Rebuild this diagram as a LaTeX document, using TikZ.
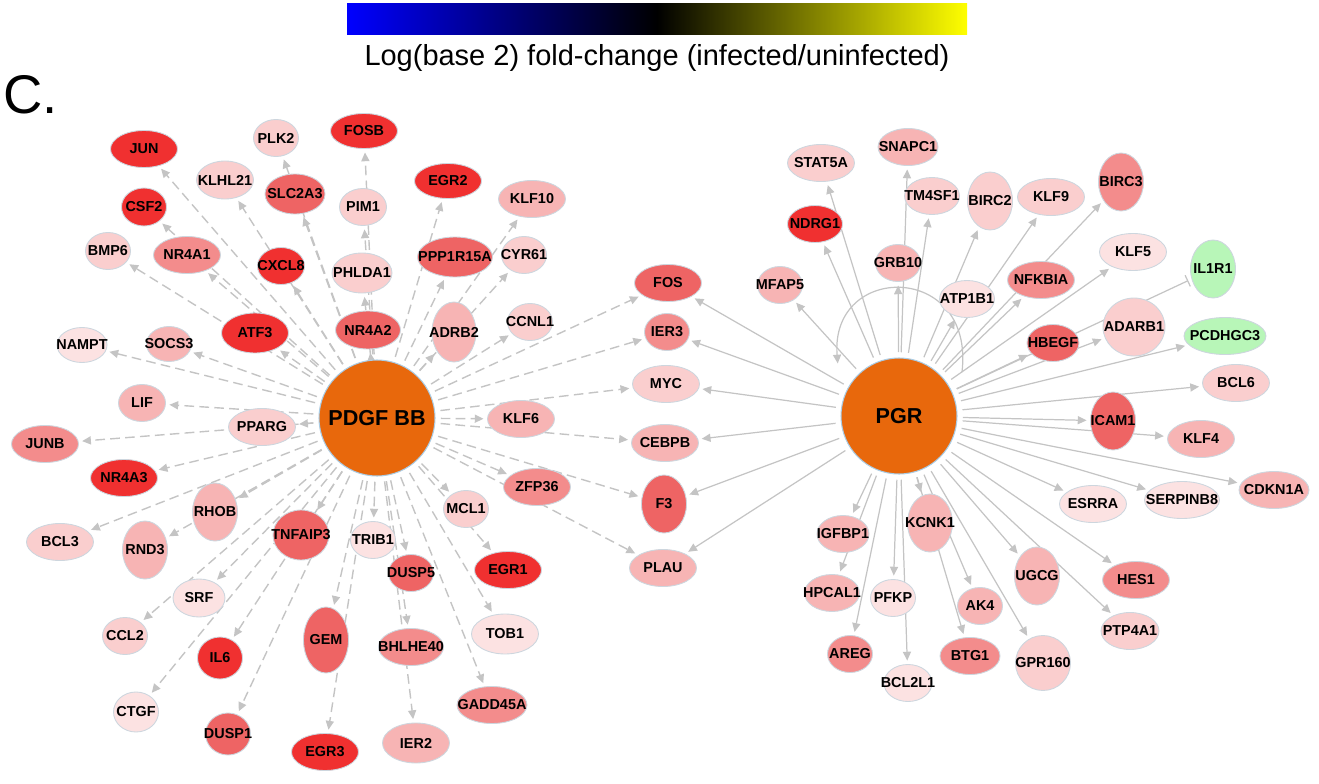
\documentclass[tikz,border=0pt]{standalone}
\usepackage{fontspec}
\setmainfont{Liberation Sans}
\usetikzlibrary{arrows.meta, shapes.geometric, backgrounds}

\definecolor{hubor}{RGB}{232,104,12}
\definecolor{hubrim}{RGB}{170,205,230}
\definecolor{rim}{RGB}{205,214,222}
\definecolor{edgegrey}{RGB}{196,196,196}
\definecolor{upfive}{RGB}{240,48,48}
\definecolor{upfour}{RGB}{238,100,100}
\definecolor{upthree}{RGB}{243,140,140}
\definecolor{uptwo}{RGB}{247,180,180}
\definecolor{upone}{RGB}{250,206,206}
\definecolor{upzero}{RGB}{252,226,226}
\definecolor{dngreen}{RGB}{184,246,184}

\tikzset{
  gene/.style={ellipse, draw=rim, line width=0.5pt, inner sep=0pt,
    font=\fontsize{8.2}{9}\selectfont\bfseries,
    execute at begin node={\hbox to 0pt\bgroup\hss},
    execute at end node={\hss\egroup}},
  wh/.style 2 args={minimum width=#1*0.02cm, minimum height=#2*0.02cm},
  hub/.style={circle, fill=hubor, draw=hubrim, line width=0.6pt, inner sep=0pt,
    minimum size=2.32cm, font=\fontsize{12.3}{14}\selectfont\bfseries},
  dashedge/.style={->, draw=edgegrey, line width=0.8pt, dash pattern=on 5.5pt off 3pt,
    shorten <=3pt, shorten >=2pt},
  solidedge/.style={->, draw=edgegrey, line width=0.7pt, shorten <=3pt, shorten >=2pt},
}

\begin{document}
\begin{tikzpicture}[x=0.02cm, y=-0.02cm, >={Triangle[length=5pt, width=4.6pt]}]
  \useasboundingbox (0,0) rectangle (1319,784);

  % colour scale
  \shade[left color=blue, right color=yellow, middle color=black] (347,4) rectangle (967,35);
  \node[font=\fontsize{16.5}{18}\selectfont] (scale) at (657,58) {Log(base 2) fold-change (infected/uninfected)};
  \node[font=\fontsize{31}{34}\selectfont, anchor=west, inner sep=0pt] (panel) at (3,95) {C.};

  % hubs
  \node[hub] (pdgf) at (377,418) {PDGF BB};
  \node[hub] (pgr) at (899,416) {PGR};

  % PDGF BB targets, upper half
  \node[gene, wh={67}{37}, fill=upfive] (jun) at (144,149) {JUN};
  \node[gene, wh={45}{37}, fill=upone] (plk2) at (276,138) {PLK2};
  \node[gene, wh={67}{35}, fill=upfive] (fosb) at (364,131) {FOSB};
  \node[gene, wh={57}{38}, fill=upone] (klhl21) at (225,180) {KLHL21};
  \node[gene, wh={60}{40}, fill=upfour] (slc2a3) at (295,194) {SLC2A3};
  \node[gene, wh={67}{35}, fill=upfive] (egr2) at (448,181) {EGR2};
  \node[gene, wh={47}{37}, fill=upone] (pim1) at (363,207) {PIM1};
  \node[gene, wh={67}{37}, fill=uptwo] (klf10) at (532,199) {KLF10};
  \node[gene, wh={45}{38}, fill=upfive] (csf2) at (144,207) {CSF2};
  \node[gene, wh={45}{37}, fill=upone] (bmp6) at (108,251) {BMP6};
  \node[gene, wh={67}{37}, fill=upthree] (nr4a1) at (187,255) {NR4A1};
  \node[gene, wh={47}{37}, fill=upfive] (cxcl8) at (281,266) {CXCL8};
  \node[gene, wh={60}{40}, fill=upone] (phlda1) at (362,273) {PHLDA1};
  \node[gene, wh={75}{40}, fill=upfour] (ppp1r15a) at (455,257) {PPP1R15A};
  \node[gene, wh={45}{37}, fill=upone] (cyr61) at (524,255) {CYR61};
  \node[gene, wh={65}{38}, fill=upfour] (nr4a2) at (368,330) {NR4A2};
  \node[gene, wh={44}{60}, fill=uptwo] (adrb2) at (454,332) {ADRB2};
  \node[gene, wh={45}{37}, fill=upone] (ccnl1) at (530,322) {CCNL1};
  \node[gene, wh={67}{40}, fill=upfive] (atf3) at (255,333) {ATF3};
  \node[gene, wh={50}{35}, fill=upzero] (nampt) at (82,345) {NAMPT};
  \node[gene, wh={45}{35}, fill=uptwo] (socs3) at (169,344) {SOCS3};

  % PDGF BB targets, lower half
  \node[gene, wh={47}{37}, fill=uptwo] (lif) at (142,403) {LIF};
  \node[gene, wh={67}{37}, fill=upone] (pparg) at (262,427) {PPARG};
  \node[gene, wh={67}{37}, fill=upthree] (junb) at (45,444) {JUNB};
  \node[gene, wh={67}{37}, fill=upfive] (nr4a3) at (124,478) {NR4A3};
  \node[gene, wh={45}{58}, fill=uptwo] (rhob) at (215,512) {RHOB};
  \node[gene, wh={67}{37}, fill=upone] (bcl3) at (60,542) {BCL3};
  \node[gene, wh={45}{58}, fill=uptwo] (rnd3) at (145,550) {RND3};
  \node[gene, wh={56}{50}, fill=upfour] (tnfaip3) at (301,535) {TNFAIP3};
  \node[gene, wh={45}{37}, fill=upzero] (trib1) at (373,540) {TRIB1};
  \node[gene, wh={45}{37}, fill=upone] (mcl1) at (466,509) {MCL1};
  \node[gene, wh={67}{37}, fill=uptwo] (klf6) at (521,419) {KLF6};
  \node[gene, wh={67}{37}, fill=upthree] (zfp36) at (537,487) {ZFP36};
  \node[gene, wh={45}{37}, fill=upfour] (dusp5) at (411,573) {DUSP5};
  \node[gene, wh={67}{37}, fill=upfive] (egr1) at (508,570) {EGR1};
  \node[gene, wh={52}{38}, fill=upzero] (srf) at (199,598) {SRF};
  \node[gene, wh={45}{37}, fill=upone] (ccl2) at (125,636) {CCL2};
  \node[gene, wh={45}{42}, fill=upfive] (il6) at (220,658) {IL6};
  \node[gene, wh={45}{66}, fill=upfour] (gem) at (326,640) {GEM};
  \node[gene, wh={65}{37}, fill=upthree] (bhlhe40) at (411,647) {BHLHE40};
  \node[gene, wh={67}{40}, fill=upzero] (tob1) at (505,634) {TOB1};
  \node[gene, wh={45}{40}, fill=upzero] (ctgf) at (136,712) {CTGF};
  \node[gene, wh={45}{42}, fill=upfour] (dusp1) at (228,734) {DUSP1};
  \node[gene, wh={67}{37}, fill=upfive] (egr3) at (325,752) {EGR3};
  \node[gene, wh={67}{40}, fill=uptwo] (ier2) at (416,743) {IER2};
  \node[gene, wh={70}{37}, fill=upthree] (gadd45a) at (492,705) {GADD45A};

  % shared targets
  \node[gene, wh={67}{37}, fill=upfour] (fos) at (668,283) {FOS};
  \node[gene, wh={45}{37}, fill=upthree] (ier3) at (667,332) {IER3};
  \node[gene, wh={67}{37}, fill=upone] (myc) at (666,384) {MYC};
  \node[gene, wh={67}{37}, fill=uptwo] (cebpb) at (665,443) {CEBPB};
  \node[gene, wh={45}{58}, fill=upfour] (f3) at (664,504) {F3};
  \node[gene, wh={67}{37}, fill=uptwo] (plau) at (663,568) {PLAU};

  % PGR targets, upper half
  \node[gene, wh={67}{37}, fill=upone] (stat5a) at (821,163) {STAT5A};
  \node[gene, wh={60}{37}, fill=uptwo] (snapc1) at (908,147) {SNAPC1};
  \node[gene, wh={55}{37}, fill=upone] (tm4sf1) at (932,196) {TM4SF1};
  \node[gene, wh={55}{37}, fill=upfive] (ndrg1) at (815,224) {NDRG1};
  \node[gene, wh={45}{37}, fill=uptwo] (grb10) at (898,263) {GRB10};
  \node[gene, wh={45}{37}, fill=uptwo] (mfap5) at (780,285) {MFAP5};
  \node[gene, wh={45}{58}, fill=upone] (birc2) at (990,201) {BIRC2};
  \node[gene, wh={67}{37}, fill=upone] (klf9) at (1051,197) {KLF9};
  \node[gene, wh={45}{58}, fill=upthree] (birc3) at (1121,182) {BIRC3};
  \node[gene, wh={67}{37}, fill=upzero] (klf5) at (1133,252) {KLF5};
  \node[gene, wh={45}{58}, fill=dngreen] (il1r1) at (1213,269) {IL1R1};
  \node[gene, wh={55}{37}, fill=upzero] (atp1b1) at (967,299) {ATP1B1};
  \node[gene, wh={67}{37}, fill=upthree] (nfkbia) at (1041,280) {NFKBIA};
  \node[gene, wh={62}{58}, fill=upone] (adarb1) at (1134,327) {ADARB1};
  \node[gene, wh={52}{37}, fill=upfour] (hbegf) at (1053,343) {HBEGF};
  \node[gene, wh={82}{37}, fill=dngreen] (pcdhgc3) at (1225,336) {PCDHGC3};
  \node[gene, wh={67}{37}, fill=upone] (bcl6) at (1236,383) {BCL6};

  % PGR targets, lower half
  \node[gene, wh={45}{58}, fill=upfour] (icam1) at (1113,421) {ICAM1};
  \node[gene, wh={67}{37}, fill=uptwo] (klf4) at (1201,439) {KLF4};
  \node[gene, wh={67}{37}, fill=upzero] (esrra) at (1093,504) {ESRRA};
  \node[gene, wh={75}{37}, fill=upzero] (serpinb8) at (1182,500) {SERPINB8};
  \node[gene, wh={70}{37}, fill=uptwo] (cdkn1a) at (1274,490) {CDKN1A};
  \node[gene, wh={45}{58}, fill=uptwo] (ugcg) at (1037,576) {UGCG};
  \node[gene, wh={67}{37}, fill=upthree] (hes1) at (1136,580) {HES1};
  \node[gene, wh={45}{37}, fill=uptwo] (ak4) at (980,606) {AK4};
  \node[gene, wh={58}{37}, fill=upone] (ptp4a1) at (1130,631) {PTP4A1};
  \node[gene, wh={60}{37}, fill=upthree] (btg1) at (970,656) {BTG1};
  \node[gene, wh={55}{55}, fill=upone] (gpr160) at (1043,663) {GPR160};
  \node[gene, wh={52}{37}, fill=uptwo] (igfbp1) at (843,534) {IGFBP1};
  \node[gene, wh={45}{58}, fill=uptwo] (kcnk1) at (930,523) {KCNK1};
  \node[gene, wh={55}{37}, fill=uptwo] (hpcal1) at (832,593) {HPCAL1};
  \node[gene, wh={45}{37}, fill=upzero] (pfkp) at (893,598) {PFKP};
  \node[gene, wh={45}{37}, fill=upthree] (areg) at (850,654) {AREG};
  \node[gene, wh={48}{37}, fill=upzero] (bcl2l1) at (908,683) {BCL2L1};

  % ends of the PGR loop
  \coordinate (loopa) at (962,372);
  \coordinate (loopb) at (838,367);

  \begin{scope}[on background layer]
    % PDGF BB edges
    \foreach \t in {jun, plk2, fosb, klhl21, slc2a3, egr2, pim1, klf10, csf2, bmp6,
        nr4a1, cxcl8, phlda1, ppp1r15a, cyr61, nr4a2, adrb2, ccnl1, atf3, nampt,
        socs3, lif, pparg, junb, nr4a3, rhob, bcl3, rnd3, tnfaip3, trib1, mcl1,
        klf6, zfp36, dusp5, egr1, srf, ccl2, il6, gem, bhlhe40, tob1, ctgf, dusp1,
        egr3, ier2, gadd45a, fos, ier3, myc, cebpb, f3, plau}
      \draw[dashedge] (pdgf) -- (\t);
    % PGR edges
    \foreach \t in {fos, ier3, myc, cebpb, f3, plau, stat5a, snapc1, tm4sf1, ndrg1,
        grb10, mfap5, birc2, klf9, birc3, klf5, atp1b1, nfkbia, adarb1, hbegf,
        pcdhgc3, bcl6, icam1, klf4, esrra, serpinb8, cdkn1a, ugcg, hes1, ak4,
        ptp4a1, btg1, gpr160, igfbp1, kcnk1, hpcal1, pfkp, areg, bcl2l1}
      \draw[solidedge] (pgr) -- (\t);
    \draw[solidedge, -{Bar[width=7pt]}] (pgr) -- (il1r1);
    \draw[solidedge, shorten <=0pt] (loopa) .. controls (975,262) and (830,262) .. (loopb);
  \end{scope}
\end{tikzpicture}
\end{document}
